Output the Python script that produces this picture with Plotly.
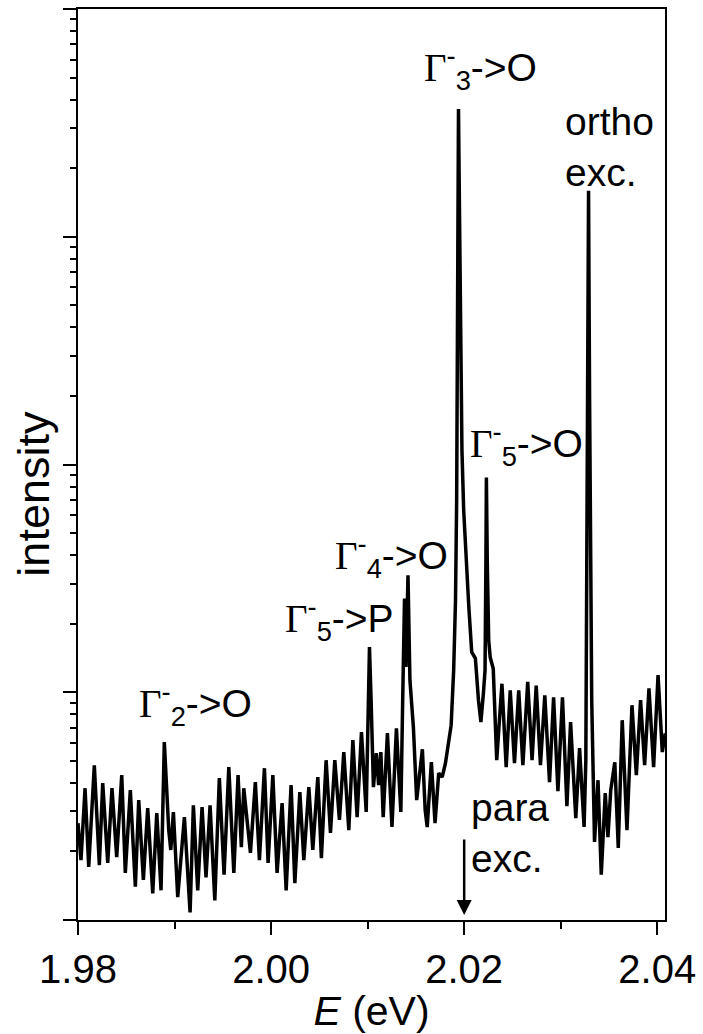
import plotly.graph_objects as go

# Photon energy (eV) and intensity (arb. units, log scale)
energy_eV = [
    1.98000, 1.98031, 1.98073, 1.98111, 1.98169, 1.98221, 1.98256, 1.98308, 1.98352, 1.98401,
    1.98453, 1.98490, 1.98542, 1.98594, 1.98629, 1.98677, 1.98722, 1.98774, 1.98816, 1.98860,
    1.98894, 1.98940, 1.98961, 1.98988, 1.99033, 1.99102, 1.99161, 1.99195, 1.99240, 1.99285,
    1.99326, 1.99368, 1.99417, 1.99464, 1.99513, 1.99562, 1.99614, 1.99658, 1.99692, 1.99717,
    1.99786, 1.99837, 1.99879, 1.99931, 1.99969, 2.00018, 2.00062, 2.00114, 2.00156, 2.00207,
    2.00246, 2.00298, 2.00339, 2.00391, 2.00432, 2.00484, 2.00521, 2.00570, 2.00615, 2.00660,
    2.00708, 2.00753, 2.00805, 2.00847, 2.00891, 2.00936, 2.00985, 2.01007, 2.01019, 2.01036,
    2.01060, 2.01090, 2.01114, 2.01137, 2.01161, 2.01205, 2.01252, 2.01298, 2.01344, 2.01363,
    2.01382, 2.01397, 2.01418, 2.01438, 2.01474, 2.01508, 2.01541, 2.01567, 2.01596, 2.01617,
    2.01660, 2.01698, 2.01736, 2.01772, 2.01806, 2.01837, 2.01865, 2.01891, 2.01910, 2.01922,
    2.01930, 2.01936, 2.01941, 2.01947, 2.01955, 2.01964, 2.01977, 2.01995, 2.02021, 2.02047,
    2.02078, 2.02116, 2.02148, 2.02173, 2.02199, 2.02216, 2.02225, 2.02230, 2.02239, 2.02254,
    2.02270, 2.02301, 2.02337, 2.02391, 2.02435, 2.02477, 2.02521, 2.02565, 2.02608, 2.02658,
    2.02703, 2.02746, 2.02790, 2.02835, 2.02884, 2.02926, 2.02971, 2.03018, 2.03064, 2.03102,
    2.03156, 2.03195, 2.03242, 2.03260, 2.03268, 2.03278, 2.03288, 2.03299, 2.03311, 2.03321,
    2.03350, 2.03386, 2.03420, 2.03461, 2.03489, 2.03518, 2.03560, 2.03596, 2.03637, 2.03686,
    2.03738, 2.03783, 2.03827, 2.03869, 2.03914, 2.03962, 2.04008, 2.04052, 2.04083,
]

intensity = [
    2.66, 1.83, 3.79, 1.71, 4.78, 1.74, 3.99, 1.78, 3.79, 1.89,
    4.33, 1.61, 3.72, 1.40, 3.36, 1.50, 3.10, 1.31, 2.95, 1.35,
    6.04, 2.48, 2.03, 2.98, 1.26, 2.83, 1.08, 3.19, 1.35, 3.13,
    1.54, 3.19, 1.22, 4.20, 1.58, 4.69, 1.61, 4.33, 2.09, 3.79,
    1.97, 4.03, 1.83, 4.64, 1.78, 4.33, 1.61, 3.26, 1.35, 3.91,
    1.45, 3.64, 1.83, 3.83, 2.03, 4.24, 1.87, 5.03, 2.41, 5.03,
    2.75, 5.46, 2.48, 6.16, 2.83, 6.68, 2.98, 9.23, 15.8, 9.23,
    3.83, 5.40, 3.91, 5.46, 2.83, 6.61, 2.56, 6.95, 2.98, 9.23,
    25.8, 12.9, 32.6, 11.3, 7.02, 3.36, 4.69, 5.62, 3.04, 2.56,
    4.93, 2.66, 4.41, 4.24, 4.88, 6.16, 7.17, 12.5, 25.3, 69.5,
    316, 1440, 3640, 1950, 710, 258, 115, 62.8, 37.9, 24.1,
    15.0, 14.1, 9.23, 7.39, 9.90, 12.5, 37.9, 87.7, 37.9, 16.9,
    14.2, 12.7, 5.03, 10.9, 4.69, 10.2, 4.88, 10.2, 4.78, 11.1,
    5.03, 10.7, 4.78, 9.70, 4.03, 9.51, 3.68, 9.51, 3.16, 7.39,
    2.80, 5.68, 2.56, 5.03, 25.3, 191, 1590, 191, 25.3, 9.23,
    2.20, 4.11, 1.58, 3.61, 2.31, 3.72, 4.93, 2.07, 7.54, 2.48,
    8.77, 4.33, 9.23, 4.78, 10.4, 4.69, 11.9, 5.46, 6.61,
]

x_tick_vals = [1.98, 2.00, 2.02, 2.04]
x_tick_text = ["1.98", "2.00", "2.02", "2.04"]
x_minor_vals = [1.99, 2.01, 2.03]

# Peak labels: (symmetry subscript, final state, energy position, log10 intensity position)
label_sub = ["3", "5", "4", "5", "2"]
label_final = ["O", "O", "O", "P", "O"]
label_x = [2.02166, 2.02648, 2.01249, 2.00705, 1.99212]
label_logy = [3.74, 2.09, 1.60, 1.32, 0.95]

SANS = "Liberation Sans, Arial, sans-serif"
ANN_SIZE = 39

fig = go.Figure()
fig.add_trace(go.Scatter(
    x=energy_eV, y=intensity, mode="lines",
    line=dict(color="black", width=3.5), hoverinfo="skip",
))

annotations = []
for sub, fin, lx, ly in zip(label_sub, label_final, label_x, label_logy):
    annotations.append(dict(
        x=lx, y=ly, xref="x", yref="y",
        text=f'<span style="font-family:Liberation Serif">\u0393</span><sup>-</sup><sub>{sub}</sub>-&gt;{fin}',
        showarrow=False, xanchor="center", yanchor="middle",
        font=dict(family=SANS, size=ANN_SIZE, color="black"),
    ))

annotations.append(dict(
    x=2.03503, y=3.395, xref="x", yref="y", text="ortho<br>exc.",
    showarrow=False, xanchor="center", yanchor="middle", align="left",
    font=dict(family=SANS, size=ANN_SIZE, color="black"),
))
annotations.append(dict(
    x=2.02472, y=0.38, xref="x", yref="y", text="para<br>exc.",
    showarrow=False, xanchor="center", yanchor="middle", align="left",
    font=dict(family=SANS, size=ANN_SIZE, color="black"),
))
# arrow marking the para exciton energy
annotations.append(dict(
    x=2.02, y=0.022, xref="x", yref="y", text="",
    showarrow=True, ax=0, ay=-77, axref="pixel", ayref="pixel",
    arrowhead=2, arrowsize=1.2, arrowwidth=2.5, arrowcolor="black",
))
# y-axis title
annotations.append(dict(
    x=-0.075, y=0.468, xref="paper", yref="paper", text="intensity",
    showarrow=False, textangle=-90, xanchor="center", yanchor="middle",
    font=dict(family=SANS, size=45, color="black"),
))

fig.update_layout(
    width=703, height=1034,
    margin=dict(l=78, r=38, t=7, b=114),
    plot_bgcolor="white", paper_bgcolor="white",
    showlegend=False,
    font=dict(family=SANS, color="black"),
    annotations=annotations,
)
fig.update_xaxes(
    range=[1.98, 2.0408],
    tickmode="array", tickvals=x_tick_vals, ticktext=x_tick_text,
    ticks="outside", ticklen=13, tickwidth=2, tickcolor="black",
    tickfont=dict(family=SANS, size=40, color="black"),
    minor=dict(tickmode="array", tickvals=x_minor_vals, ticks="outside",
               ticklen=7, tickwidth=2, tickcolor="black"),
    showline=True, linewidth=2, linecolor="black", mirror=True,
    showgrid=False, zeroline=False,
    title=dict(text="<i>E</i> (eV)", font=dict(family=SANS, size=41, color="black"), standoff=6),
)
fig.update_yaxes(
    type="log", range=[0, 4], dtick=1,
    ticks="outside", ticklen=13, tickwidth=2, tickcolor="black",
    showticklabels=False,
    minor=dict(ticks="outside", ticklen=6, tickwidth=2, tickcolor="black", dtick="D1"),
    showline=True, linewidth=2, linecolor="black", mirror=True,
    showgrid=False, zeroline=False,
)

fig.write_html("out.html")
